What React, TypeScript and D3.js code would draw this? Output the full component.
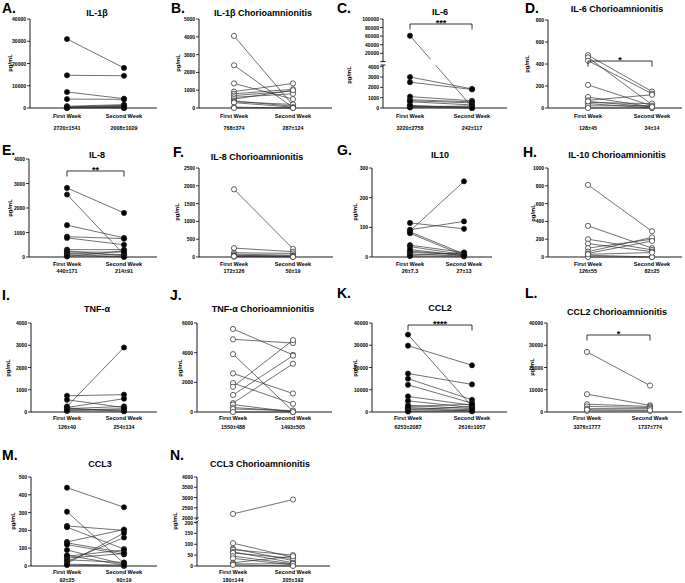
import React from 'react';
import * as d3 from 'd3';

const FONT = "'Liberation Sans', Arial, Helvetica, sans-serif";

const weekLabels = ['First Week', 'Second Week'];

// A. IL-1β
const il1bFirst = [31000, 14700, 7200, 4000, 800, 500, 300, 200, 100, 50, 400, 150];
const il1bSecond = [18000, 14500, 4200, 3900, 1500, 1200, 800, 400, 200, 100, 50, 600];
// B. IL-1β Chorioamnionitis
const il1bChFirst = [4050, 2400, 1380, 920, 800, 700, 600, 500, 400, 350, 300, 50, 0];
const il1bChSecond = [150, 30, 500, 1380, 1050, 950, 800, 1000, 100, 200, 50, 0, 0];
// C. IL-6
const il6First = [61000, 3000, 2500, 1100, 800, 700, 600, 200, 150, 100, 50, 250];
const il6Second = [100, 1850, 1800, 700, 600, 500, 300, 100, 50, 200, 0, 0];
// D. IL-6 Chorioamnionitis
const il6ChFirst = [480, 460, 430, 210, 100, 70, 50, 40, 20, 0, 60];
const il6ChSecond = [150, 30, 130, 20, 10, 120, 40, 0, 20, 0, 10];
// E. IL-8
const il8First = [2820, 2550, 1300, 830, 780, 300, 250, 200, 150, 100, 50, 20];
const il8Second = [1800, 100, 780, 750, 500, 300, 50, 200, 100, 20, 0, 250];
// F. IL-8 Chorioamnionitis
const il8ChFirst = [1900, 250, 120, 80, 50, 30, 10, 20];
const il8ChSecond = [230, 150, 100, 50, 20, 30, 10, 0];
// G. IL10
const il10First = [115, 92, 88, 85, 80, 40, 35, 20, 15, 10, 5, 3, 25];
const il10Second = [95, 120, 255, 10, 5, 15, 8, 5, 10, 3, 15, 2, 5];
// H. IL-10 Chorioamnionitis
const il10ChFirst = [810, 350, 200, 150, 100, 60, 40, 20, 0, 30];
const il10ChSecond = [290, 100, 80, 60, 200, 220, 180, 0, 0, 50];
// I. TNF-α
const tnfFirst = [730, 550, 250, 200, 150, 100, 50, 180, 80];
const tnfSecond = [780, 200, 2900, 600, 250, 100, 50, 30, 150];
// J. TNF-α Chorioamnionitis
const tnfChFirst = [5600, 4900, 3900, 2600, 1950, 1700, 1150, 600, 500, 300, 200, 0];
const tnfChSecond = [3850, 4650, 50, 1250, 550, 4850, 3800, 3250, 0, 50, 100, 0];
// K. CCL2
const ccl2First = [34800, 29800, 17300, 15000, 12200, 7000, 5000, 3000, 2000, 1500, 1000, 500, 200, 2500];
const ccl2Second = [2500, 21000, 12400, 5500, 4000, 3000, 2000, 1500, 1000, 500, 2500, 300, 800, 3500];
// L. CCL2 Chorioamnionitis
const ccl2ChFirst = [27000, 8000, 3500, 2500, 1500, 500, 1000];
const ccl2ChSecond = [11900, 3000, 2500, 2000, 1500, 500, 800];
// M. CCL3
const ccl3First = [440, 305, 225, 218, 135, 130, 120, 90, 55, 45, 35, 25, 15, 10, 5, 60];
const ccl3Second = [330, 15, 200, 95, 205, 75, 65, 10, 90, 70, 20, 160, 185, 5, 0, 5];
// N. CCL3 Chorioamnionitis
const ccl3ChFirst = [2200, 105, 80, 75, 65, 60, 45, 35, 15, 10, 5];
const ccl3ChSecond = [2900, 40, 25, 50, 15, 35, 10, 5, 45, 10, 0];

const letters = ['A.', 'B.', 'C.', 'D.', 'E.', 'F.', 'G.', 'H.', 'I.', 'J.', 'K.', 'L.', 'M.', 'N.'];
const titles = [
  'IL-1β', 'IL-1β Chorioamnionitis', 'IL-6', 'IL-6 Chorioamnionitis',
  'IL-8', 'IL-8 Chorioamnionitis', 'IL10', 'IL-10 Chorioamnionitis',
  'TNF-α', 'TNF-α Chorioamnionitis', 'CCL2', 'CCL2 Chorioamnionitis',
  'CCL3', 'CCL3 Chorioamnionitis',
];
const statsFirst = ['2720±1541', '768±374', '3220±2758', '128±45', '440±171', '172±126', '26±7.3', '126±55', '126±40', '1550±488', '6253±2087', '3376±1777', '92±25', '180±144'];
const statsSecond = ['2008±1029', '287±124', '242±117', '34±14', '214±91', '50±19', '27±13', '82±25', '254±134', '1493±505', '2616±1057', '1737±774', '60±19', '205±192'];
const yTicks = [
  [0, 10000, 20000, 30000, 40000],
  [0, 1000, 2000, 3000, 4000, 5000],
  [0, 1000, 2000, 3000, 4000, 20000, 40000, 60000, 80000, 100000],
  [0, 200, 400, 600, 800],
  [0, 1000, 2000, 3000, 4000],
  [0, 500, 1000, 1500, 2000, 2500],
  [0, 100, 200, 300],
  [0, 200, 400, 600, 800, 1000],
  [0, 1000, 2000, 3000, 4000],
  [0, 2000, 4000, 6000],
  [0, 10000, 20000, 30000, 40000],
  [0, 10000, 20000, 30000, 40000],
  [0, 100, 200, 300, 400, 500],
  [0, 50, 100, 150, 200, 2000, 2500, 3000, 3500, 4000],
];
const significance = ['', '', '***', '*', '**', '', '', '', '', '', '****', '*', '', ''];
// broken axes: [low max, high min]
const breaks: Record<number, [number, number]> = { 2: [4000, 20000], 13: [200, 2000] };

const seriesFirst = [il1bFirst, il1bChFirst, il6First, il6ChFirst, il8First, il8ChFirst, il10First, il10ChFirst, tnfFirst, tnfChFirst, ccl2First, ccl2ChFirst, ccl3First, ccl3ChFirst];
const seriesSecond = [il1bSecond, il1bChSecond, il6Second, il6ChSecond, il8Second, il8ChSecond, il10Second, il10ChSecond, tnfSecond, tnfChSecond, ccl2Second, ccl2ChSecond, ccl3Second, ccl3ChSecond];

// panel geometry
const layout = [
  { lx: 2, ly: 8, tx: 97, ty: 13, ax: 30, x1: 67, x2: 124, xe: 157, top: 19, zero: 108, ylx: 10, yly: 63, wd: 8, sd: 20 },
  { lx: 171, ly: 8, tx: 263, ty: 13, ax: 199, x1: 234, x2: 293, xe: 332, top: 19, zero: 108, ylx: 178, yly: 63, wd: 8, sd: 20 },
  { lx: 337, ly: 8, tx: 440, ty: 12, ax: 383, x1: 410, x2: 472, xe: 507, top: 19, zero: 108, ylx: 349, yly: 75, wd: 8, sd: 20, sig: 24, lowTop: 66.7, highBottom: 53.3, highEnd: 61.6, lowStart: 65, cap: true },
  { lx: 525, ly: 8, tx: 617, ty: 9, ax: 548, x1: 588, x2: 652, xe: 682, top: 20, zero: 108, ylx: 527, yly: 64, wd: 8, sd: 20, sig: 61 },
  { lx: 2, ly: 150, tx: 97, ty: 155, ax: 29, x1: 67, x2: 124, xe: 157, top: 159, zero: 257, ylx: 10, yly: 208, wd: 7, sd: 14, sig: 171 },
  { lx: 173, ly: 152, tx: 257, ty: 157, ax: 199, x1: 234, x2: 293, xe: 333, top: 168, zero: 257, ylx: 177, yly: 212, wd: 7, sd: 14 },
  { lx: 337, ly: 150, tx: 440, ty: 155, ax: 372, x1: 410, x2: 464, xe: 492, top: 168, zero: 257, ylx: 355, yly: 212, wd: 7, sd: 14 },
  { lx: 523, ly: 152, tx: 617, ty: 155, ax: 548, x1: 588, x2: 652, xe: 682, top: 168, zero: 257, ylx: 533, yly: 213, wd: 7, sd: 14 },
  { lx: 2, ly: 295, tx: 97, ty: 309, ax: 31, x1: 67, x2: 124, xe: 157, top: 323, zero: 412, ylx: 8, yly: 368, wd: 6, sd: 15 },
  { lx: 170, ly: 295, tx: 263, ty: 309, ax: 197, x1: 233, x2: 293, xe: 332, top: 323, zero: 412, ylx: 180, yly: 368, wd: 6, sd: 15 },
  { lx: 337, ly: 293, tx: 440, ty: 308, ax: 372, x1: 408, x2: 472, xe: 507, top: 323, zero: 412, ylx: 355, yly: 368, wd: 6, sd: 15, sig: 325 },
  { lx: 525, ly: 293, tx: 617, ty: 312, ax: 547, x1: 587, x2: 650, xe: 682, top: 323, zero: 412, ylx: 532, yly: 367, wd: 6, sd: 15, sig: 335 },
  { lx: 2, ly: 455, tx: 100, ty: 464, ax: 31, x1: 67, x2: 124, xe: 157, top: 477, zero: 566, ylx: 13, yly: 521, wd: 6, sd: 14 },
  { lx: 170, ly: 455, tx: 260, ty: 464, ax: 197, x1: 233, x2: 293, xe: 330, top: 477, zero: 566, ylx: 175, yly: 521, wd: 6, sd: 14, lowTop: 522.5, highBottom: 518, highEnd: 519.5, lowStart: 521, cap: false },
];

function Panel({ i }: { i: number }) {
  const L: any = layout[i];
  const ticks = yTicks[i];
  const brk = breaks[i];
  const filled = i % 2 === 0;
  const first = seriesFirst[i];
  const second = seriesSecond[i];

  const x = d3.scalePoint<string>().domain(weekLabels).range([L.x1, L.x2]);
  const xa = x(weekLabels[0]) as number;
  const xb = x(weekLabels[1]) as number;

  let y: (v: number) => number;
  if (brk) {
    const low = d3.scaleLinear().domain([0, brk[0]]).range([L.zero, L.lowTop]);
    const high = d3.scaleLinear().domain([brk[1], d3.max(ticks) as number]).range([L.highBottom, L.top]);
    y = (v) => (v <= brk[0] ? low(v) : high(v));
  } else {
    y = d3.scaleLinear().domain([0, d3.max(ticks) as number]).range([L.zero, L.top]);
  }

  const clipId = `clip-${i}`;
  const fill = filled ? '#000' : '#fff';

  return (
    <g>
      {brk && (
        <clipPath id={clipId}>
          <rect x={L.ax} y={L.top - 10} width={L.xe - L.ax + 10} height={L.highEnd - 2 - L.top + 10} />
          <rect x={L.ax} y={L.lowStart} width={L.xe - L.ax + 10} height={L.zero - L.lowStart + 10} />
        </clipPath>
      )}
      <text x={L.lx} y={L.ly} dominantBaseline="central" fontSize={14} fontWeight="bold">{letters[i]}</text>
      <text x={L.tx} y={L.ty} dominantBaseline="central" textAnchor="middle" fontSize={9} fontWeight="bold">{titles[i]}</text>
      <text transform={`translate(${L.ylx},${L.yly}) rotate(-90)`} textAnchor="middle" dominantBaseline="central" fontSize={5.8} fontWeight="bold">pg/mL</text>

      {/* y axis */}
      {brk ? (
        <g stroke="#000" strokeWidth={0.9}>
          <line x1={L.ax} x2={L.ax} y1={L.top} y2={L.highEnd} />
          <line x1={L.ax} x2={L.ax} y1={L.lowStart} y2={L.zero} />
          {L.cap ? (
            <>
              <line x1={L.ax - 2.5} x2={L.ax + 2.5} y1={L.highEnd} y2={L.highEnd} />
              <line x1={L.ax - 2.5} x2={L.ax + 2.5} y1={L.lowStart} y2={L.lowStart} />
            </>
          ) : (
            <>
              <line x1={L.ax - 1.5} x2={L.ax + 1.5} y1={L.highEnd + 0.5} y2={L.highEnd - 2} />
              <line x1={L.ax - 1.5} x2={L.ax + 1.5} y1={L.lowStart + 2} y2={L.lowStart - 0.5} />
            </>
          )}
        </g>
      ) : (
        <line x1={L.ax} x2={L.ax} y1={L.top} y2={L.zero} stroke="#000" strokeWidth={0.9} />
      )}
      {ticks.map((t) => (
        <g key={t}>
          <line x1={L.ax - 3} x2={L.ax} y1={y(t)} y2={y(t)} stroke="#000" strokeWidth={0.8} />
          <text x={L.ax - 4} y={y(t)} textAnchor="end" dominantBaseline="central" fontSize={5} fontWeight="bold">{String(t)}</text>
        </g>
      ))}
      {/* x axis */}
      <line x1={L.ax} x2={L.xe} y1={L.zero} y2={L.zero} stroke="#000" strokeWidth={0.9} />
      {weekLabels.map((w, k) => (
        <g key={w}>
          <text x={x(w)} y={L.zero + L.wd} textAnchor="middle" dominantBaseline="central" fontSize={5.6} fontWeight="bold">{w}</text>
          <text x={x(w)} y={L.zero + L.sd} textAnchor="middle" dominantBaseline="central" fontSize={5.4} fontWeight="bold">{k === 0 ? statsFirst[i] : statsSecond[i]}</text>
        </g>
      ))}

      {/* paired lines */}
      <g clipPath={brk ? `url(#${clipId})` : undefined}>
        {first.map((v, k) => (
          <line key={k} x1={xa} y1={y(v)} x2={xb} y2={y(second[k])} stroke="#333" strokeWidth={0.7} />
        ))}
      </g>
      {first.map((v, k) => (
        <circle key={'a' + k} cx={xa} cy={y(v)} r={2.6} fill={fill} stroke="#222" strokeWidth={0.7} />
      ))}
      {second.map((v, k) => (
        <circle key={'b' + k} cx={xb} cy={y(v)} r={2.6} fill={fill} stroke="#222" strokeWidth={0.7} />
      ))}

      {significance[i] && (
        <g>
          <path d={`M${xa},${L.sig + 5.5}V${L.sig}H${xb}V${L.sig + 5.5}`} fill="none" stroke="#000" strokeWidth={0.8} />
          <text x={(xa + xb) / 2} y={L.sig + 1.5} textAnchor="middle" fontSize={9} fontWeight="bold">{significance[i]}</text>
        </g>
      )}
    </g>
  );
}

export default function App() {
  return (
    <div>
      <style>{'body{margin:0}'}</style>
      <svg width={685} height={583} style={{ display: 'block', background: '#fff', fontFamily: FONT }}>
        {titles.map((_, i) => (
          <Panel key={i} i={i} />
        ))}
      </svg>
    </div>
  );
}
